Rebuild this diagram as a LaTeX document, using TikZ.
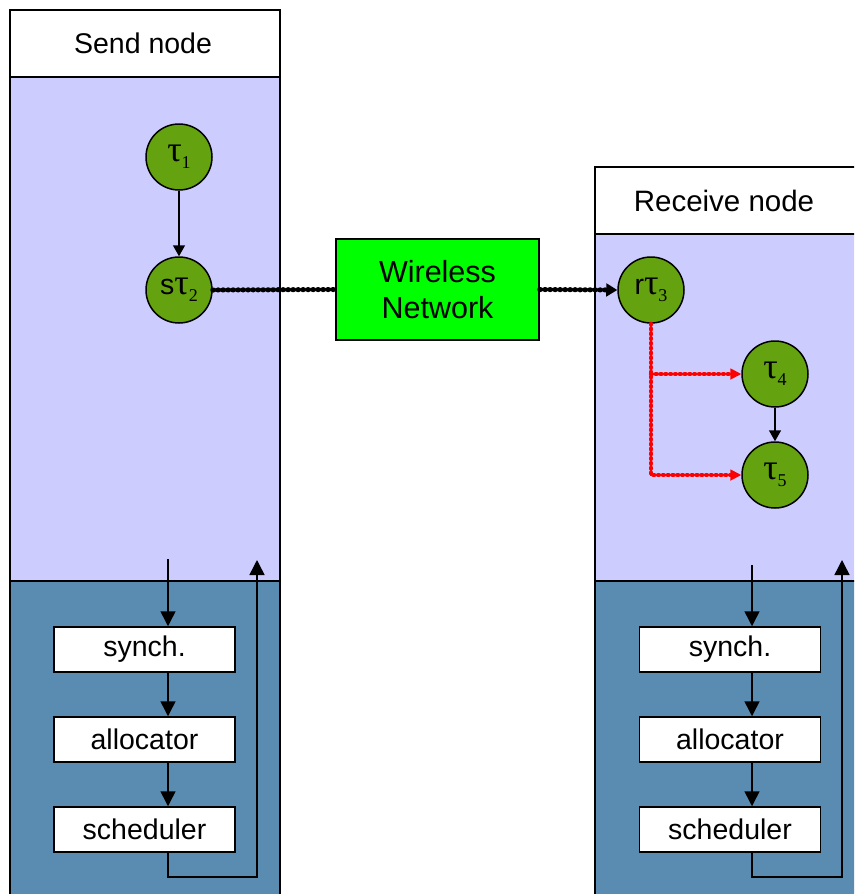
\documentclass[tikz,border=0pt]{standalone}
\usepackage{fontspec}
\setmainfont{Liberation Sans}
\newfontfamily\grk{Liberation Serif}
\usetikzlibrary{arrows.meta}
\definecolor{lav}{HTML}{CCCCFF}
\definecolor{steel}{HTML}{5A8BB0}
\definecolor{leaf}{HTML}{64A30F}
\definecolor{netgreen}{HTML}{00FF00}
\definecolor{linkred}{HTML}{FF0000}
% task label: optional sans prefix, Greek tau, lowered index
\newcommand\tasklabel[2]{{\fontsize{28.5}{30}\selectfont #1}{\grk\fontsize{36}{36}\selectfont τ}{\grk\fontsize{18}{18}\selectfont\raisebox{-7pt}{#2}}}
\tikzset{
  panel/.style={line width=1.5pt},
  task/.style={circle, draw, fill=leaf, line width=1.5pt, minimum size=66pt, inner sep=0pt},
  stage/.style={draw, fill=white, line width=1.5pt, minimum width=181pt, minimum height=45pt,
    inner sep=0pt, font=\fontsize{28.5}{30}\selectfont},
  title/.style={inner sep=0pt, font=\fontsize{28.5}{30}\selectfont},
  flow/.style={line width=1.5pt, -{Triangle[length=15pt,width=15pt]}},
  flowsmall/.style={line width=1.5pt, -{Triangle[length=11pt,width=12pt]}},
  chainbase/.style={line width=2pt},
  chaindots/.style={line width=5pt, line cap=round, dash pattern=on 0.8pt off 4.2pt},
  redbase/.style={linkred, line width=1.8pt},
  reddots/.style={linkred, line width=4.4pt, line cap=round, dash pattern=on 0.8pt off 4pt},
}
\begin{document}
\begin{tikzpicture}[x=1pt,y=-1pt]
\useasboundingbox (0,0) rectangle (854,894);
\clip (0,0) rectangle (854,894);

% send node panel
\fill[white] (10,10) rectangle (280,77);
\fill[lav] (10,77) rectangle (280,581);
\fill[steel] (10,581) rectangle (280,900);
\draw[panel] (10,900) -- (10,10) -- (280,10) -- (280,900);
\draw[panel] (10,77) -- (280,77);
\draw[panel] (10,581) -- (280,581);

% receive node panel
\fill[white] (595,167) rectangle (900,234);
\fill[lav] (595,234) rectangle (900,581);
\fill[steel] (595,581) rectangle (900,900);
\draw[panel] (595,900) -- (595,167) -- (900,167);
\draw[panel] (595,234) -- (900,234);
\draw[panel] (595,581) -- (900,581);

\node[title] (sendhdr) at (143,43.5) {Send node};
\node[title, font=\fontsize{29.5}{31}\selectfont] (recvhdr) at (724,201) {Receive node};

% tasks
\node[task] (t1) at (179,157) {\tasklabel{}{1}};
\node[task] (s2) at (179,290) {\tasklabel{s}{2}};
\node[task] (r3) at (651,290) {\tasklabel{r}{3}};
\node[task] (t4) at (775,374) {\tasklabel{}{4}};
\node[task] (t5) at (775,475) {\tasklabel{}{5}};

\node[draw, fill=netgreen, line width=1.5pt, minimum width=203pt, minimum height=101pt,
  inner sep=0pt, align=center, font=\fontsize{30.5}{36}\selectfont] (net) at (437.5,289.5) {Wireless\\Network};

\draw[flowsmall] (t1) -- (s2);
\draw[flowsmall] (t4) -- (t5);

% network link
\draw[chainbase] (s2.east) -- (net.west);
\draw[chaindots] (s2.east) -- (net.west);
\draw[chainbase, -{Triangle[length=11pt,width=13pt]}] (net.east) -- (r3.west);
\draw[chaindots, shorten >=11pt] (net.east) -- (r3.west);

% local fan-out on the receiver
\coordinate (rb) at (r3.south |- t4.west);
\draw[redbase, -{Triangle[length=11pt,width=11pt,fill=linkred]}] (r3.south) |- (t5.west);
\draw[reddots, shorten >=11pt] (r3.south) |- (t5.west);
\draw[redbase, -{Triangle[length=11pt,width=11pt,fill=linkred]}] (rb) -- (t4.west);
\draw[reddots, shorten >=11pt] (rb) -- (t4.west);

% send node runtime stages
\node[stage] (synL) at (144.5,649.5) {synch.};
\node[stage] (allL) at (144.5,739.5) {allocator};
\node[stage] (schL) at (144.5,829.5) {scheduler};
\coordinate (inL) at (168,559);
\coordinate (loopL) at (257,877);
\coordinate (retL) at (257,560);
\draw[flow] (inL) -- (inL |- synL.north);
\draw[flow] (inL |- synL.south) -- (inL |- allL.north);
\draw[flow] (inL |- allL.south) -- (inL |- schL.north);
\draw[flow] (inL |- schL.south) |- (loopL) -- (retL);

% receive node runtime stages
\node[stage] (synR) at (730,649.5) {synch.};
\node[stage] (allR) at (730,739.5) {allocator};
\node[stage] (schR) at (730,829.5) {scheduler};
\coordinate (inR) at (752,565);
\coordinate (loopR) at (842,877);
\coordinate (retR) at (842,560);
\draw[flow] (inR) -- (inR |- synR.north);
\draw[flow] (inR |- synR.south) -- (inR |- allR.north);
\draw[flow] (inR |- allR.south) -- (inR |- schR.north);
\draw[flow] (inR |- schR.south) |- (loopR) -- (retR);
\end{tikzpicture}
\end{document}
